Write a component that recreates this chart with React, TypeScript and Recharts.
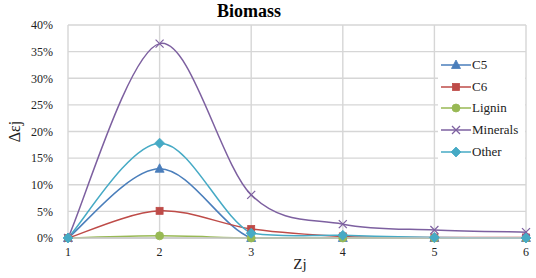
import React from 'react';
import { LineChart, Line, XAxis, YAxis, CartesianGrid } from 'recharts';

const zValues = [1, 2, 3, 4, 5, 6];
const c5 = [0, 13.0, 0, 0, 0, 0];
const c6 = [0, 5.1, 1.7, 0.3, 0.1, 0.1];
const lignin = [0, 0.4, 0, 0, 0, 0];
const minerals = [0, 36.5, 8.1, 2.6, 1.5, 1.1];
const other = [0, 17.8, 0.9, 0.5, 0.1, 0];
const yTicks = [0, 5, 10, 15, 20, 25, 30, 35, 40];
const seriesNames = ['C5', 'C6', 'Lignin', 'Minerals', 'Other'];

const data = zValues.map((z, i) => ({
  z,
  C5: c5[i],
  C6: c6[i],
  Lignin: lignin[i],
  Minerals: minerals[i],
  Other: other[i],
}));

const FONT = 'Liberation Serif, Tinos, Times New Roman, DejaVu Serif, serif';

const colors: Record<string, string> = {
  C5: '#4A7EBB',
  C6: '#BE4B48',
  Lignin: '#98B954',
  Minerals: '#7D60A0',
  Other: '#46AAC5',
};
const shapes: Record<string, string> = {
  C5: 'triangle',
  C6: 'square',
  Lignin: 'circle',
  Minerals: 'x',
  Other: 'diamond',
};

// Catmull-Rom style smoothing (like Excel's smoothed line), control points kept above the lowest point
function smoothCurve(context: any) {
  let pts: number[][] = [];
  return {
    areaStart() {},
    areaEnd() {},
    lineStart() {
      pts = [];
    },
    point(x: number, y: number) {
      pts.push([+x, +y]);
    },
    lineEnd() {
      if (!pts.length) return;
      const maxY = Math.max(...pts.map((p) => p[1]));
      const cl = (y: number) => Math.min(y, maxY);
      context.moveTo(pts[0][0], pts[0][1]);
      const k = 1 / 6;
      for (let i = 0; i < pts.length - 1; i++) {
        const p0 = pts[i - 1] || pts[i];
        const p1 = pts[i];
        const p2 = pts[i + 1];
        const p3 = pts[i + 2] || p2;
        context.bezierCurveTo(
          p1[0] + (p2[0] - p0[0]) * k,
          cl(p1[1] + (p2[1] - p0[1]) * k),
          p2[0] - (p3[0] - p1[0]) * k,
          cl(p2[1] - (p3[1] - p1[1]) * k),
          p2[0],
          p2[1]
        );
      }
    },
  };
}

function Marker({ shape, color, cx, cy }: { shape: string; color: string; cx: number; cy: number }) {
  if (cx == null || cy == null || isNaN(cx) || isNaN(cy)) return null;
  switch (shape) {
    case 'triangle':
      return <polygon points={`${cx},${cy - 5} ${cx - 4.5},${cy + 3.5} ${cx + 4.5},${cy + 3.5}`} fill={color} stroke={color} strokeWidth={0.8} />;
    case 'square':
      return <rect x={cx - 3.5} y={cy - 3.5} width={7} height={7} fill={color} stroke={color} strokeWidth={0.8} />;
    case 'circle':
      return <circle cx={cx} cy={cy} r={4} fill={color} stroke={color} strokeWidth={0.8} />;
    case 'x':
      return (
        <g stroke={color} strokeWidth={1.2}>
          <line x1={cx - 4} y1={cy - 4} x2={cx + 4} y2={cy + 4} />
          <line x1={cx - 4} y1={cy + 4} x2={cx + 4} y2={cy - 4} />
        </g>
      );
    case 'diamond':
    default:
      return <polygon points={`${cx},${cy - 5} ${cx + 5},${cy} ${cx},${cy + 5} ${cx - 5},${cy}`} fill={color} stroke={color} strokeWidth={0.8} />;
  }
}

const makeDot = (name: string) => (p: any) => (
  <Marker key={`${name}-${p.index}`} shape={shapes[name]} color={colors[name]} cx={p.cx} cy={p.cy} />
);

const LegendBox = () => (
  <div
    style={{
      position: 'absolute',
      left: 438,
      top: 54,
      width: 84,
      background: '#fff',
      padding: '0 0 0 3px',
      fontFamily: FONT,
      fontSize: 13,
      color: '#222',
      zIndex: 2,
    }}
  >
    {seriesNames.map((name) => (
      <div key={name} style={{ display: 'flex', alignItems: 'center', height: 21.8 }}>
        <svg width={30} height={12} style={{ display: 'block' }}>
          <line x1={0} y1={6} x2={30} y2={6} stroke={colors[name]} strokeWidth={1.5} />
          <Marker shape={shapes[name]} color={colors[name]} cx={15} cy={6} />
        </svg>
        <span style={{ marginLeft: 1 }}>{name}</span>
      </div>
    ))}
  </div>
);

export default function App() {
  return (
    <div style={{ position: 'absolute', left: 0, top: 0, width: 536, height: 278, background: '#fff' }}>
      <div
        style={{
          position: 'absolute',
          left: 0,
          top: 1,
          width: 498,
          textAlign: 'center',
          fontFamily: FONT,
          fontWeight: 'bold',
          fontSize: 18,
          color: '#000',
          zIndex: 2,
        }}
      >
        Biomass
      </div>
      <LineChart width={536} height={278} data={data} margin={{ top: 25, right: 10, bottom: 10, left: 0 }}>
        <CartesianGrid stroke="#D6D6D6" strokeWidth={1.4} horizontal vertical />
        <XAxis
          dataKey="z"
          type="number"
          domain={[1, 6]}
          ticks={zValues}
          height={30}
          axisLine={{ stroke: '#C8C8C8', strokeWidth: 1.4 }}
          tickLine={false}
          tick={{ fontFamily: FONT, fontSize: 12, fill: '#222' }}
          tickMargin={3}
          label={{ value: 'Zj', position: 'insideBottom', offset: -1, dx: 3, style: { fontFamily: FONT, fontSize: 15, fill: '#222' } }}
        />
        <YAxis
          domain={[0, 40]}
          ticks={yTicks}
          width={68}
          axisLine={false}
          tickLine={false}
          tickFormatter={(v: number) => `${v}%`}
          tick={{ fontFamily: FONT, fontSize: 12, fill: '#222' }}
          tickMargin={9}
          label={{ value: 'Δεj', angle: -90, position: 'insideLeft', offset: 14, style: { fontFamily: FONT, fontSize: 16, fill: '#222', textAnchor: 'middle' } }}
        />
        {seriesNames.map((name) => (
          <Line
            key={name}
            dataKey={name}
            type={smoothCurve as any}
            stroke={colors[name]}
            strokeWidth={1.5}
            dot={makeDot(name)}
            activeDot={false}
            isAnimationActive={false}
          />
        ))}
      </LineChart>
      <LegendBox />
    </div>
  );
}
